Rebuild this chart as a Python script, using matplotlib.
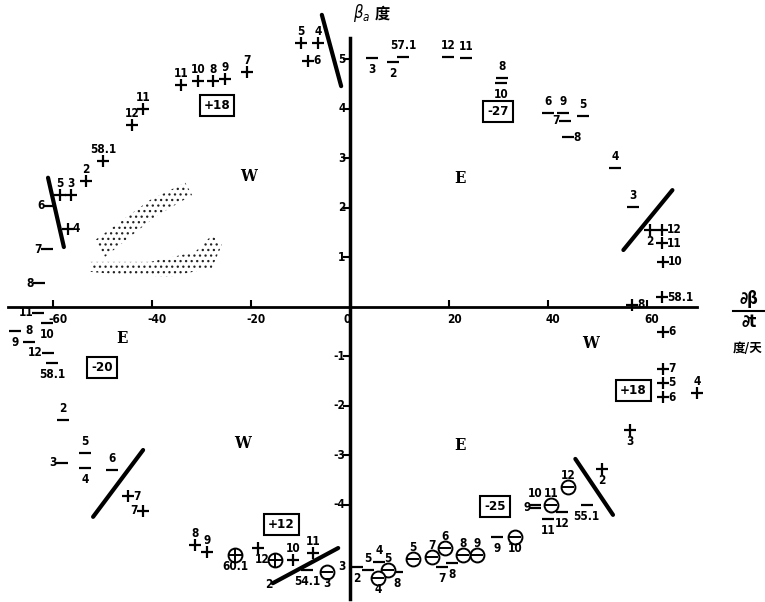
import matplotlib
matplotlib.use("Agg")
import matplotlib.pyplot as plt

plt.rcParams['font.family'] = ['DejaVu Sans']
plt.rcParams['font.stretch'] = 'condensed'
plt.rcParams['hatch.linewidth'] = 0.9

# "+" points: x (deg/day), y (deg), label, label side
plus_x = [-44.0, -41.8, -34.1, -30.7, -27.7, -25.3, -20.8, -9.9, -6.5, -8.5,
          -49.9, -53.3, -58.6, -56.4, -57.0,
          60.6, 63.0, 63.0, 63.2, 57.0, 63.0, 63.2, 63.2, 63.2, 63.2, 70.1, 56.6, 50.9,
          -44.8, -41.8, -31.3, -28.9, -18.6, -11.5, -7.5]
plus_y = [3.68, 4.00, 4.48, 4.57, 4.57, 4.60, 4.75, 5.33, 5.33, 4.97,
          2.95, 2.55, 2.26, 2.26, 1.58,
          1.56, 1.56, 1.29, 0.91, 0.04, 0.20, -0.50, -1.25, -1.53, -1.82, -1.74, -2.48, -3.27,
          -3.82, -4.12, -4.81, -4.95, -4.87, -5.11, -4.97]
plus_lab = ["12", "11", "11", "10", "8", "9", "7", "5", "4", "6",
            "58.1", "2", "5", "3", "4",
            "2", "12", "11", "10", "8", "58.1", "6", "7", "5", "6", "4", "3", "2",
            "7", "7", "8", "9", "", "10", "11"]
plus_pos = ["above"] * 9 + ["right"] + ["above"] * 4 + ["right"] + \
           ["below"] + ["right"] * 9 + ["above", "below", "below"] + \
           ["right", "left", "above", "above", "above", "above", "above"]

# "-" points
minus_x = [-60.6, -61.2, -62.8,
           -63.0, -61.2, -67.7, -64.8, -61.0, -60.2, -58.0, -58.2, -53.5, -53.5, -48.1,
           4.4, 10.7, 8.7, 19.8, 23.4, 30.7, 30.5, 40.0, 43.0, 43.4, 47.1, 44.0, 53.5, 57.2,
           37.4, 37.4, 40.0, 42.8, 47.8, 29.7, 18.6, 20.6, 3.6, 5.9, 9.5, 1.4, -8.6]
minus_y = [2.04, 1.17, 0.48,
           -0.12, -0.32, -0.48, -0.71, -0.93, -1.13, -2.28, -3.15, -2.95, -3.25, -3.29,
           5.03, 5.05, 4.95, 5.05, 5.03, 4.62, 4.52, 3.92, 3.92, 3.76, 3.86, 3.43, 2.81, 2.02,
           -4.00, -4.06, -4.28, -4.14, -4.00, -4.65, -5.25, -5.17, -5.31, -5.15, -5.35, -5.25, -5.31]
minus_lab = ["6", "7", "8",
             "11", "10", "9", "8", "12", "58.1", "2", "3", "5", "4", "6",
             "3", "57.1", "2", "12", "11", "8", "10", "6", "9", "7", "5", "8", "4", "3",
             "10", "9", "11", "12", "55.1", "9", "7", "8", "5", "4", "8", "2", "54.1"]
minus_pos = ["left"] * 3 + \
            ["left", "below", "below", "above", "left", "below", "above", "left", "above", "below", "above"] + \
            ["below", "above", "below", "above", "above", "above", "below", "above", "above", "left",
             "above", "right", "above", "above"] + \
            ["above", "left", "below", "below", "below", "below", "below", "below", "above", "above",
             "below", "below", "below"]

# circled minus points
ominus_x = [44.0, 40.6, 33.3, 25.7, 22.8, 19.2, 16.6, 12.7, 7.7, 5.7, -4.6]
ominus_y = [-3.63, -4.00, -4.65, -5.01, -5.01, -4.87, -5.05, -5.09, -5.31, -5.47, -5.35]
ominus_lab = ["12", "11", "10", "9", "8", "6", "7", "5", "5", "4", "3"]
ominus_pos = ["above", "above", "below", "above", "above", "above", "above", "above", "above", "below", "below"]

# circled plus points
oplus_x = [-23.2, -15.2]
oplus_y = [-5.01, -5.11]
oplus_lab = ["60.1", "12"]
oplus_pos = ["below", "left"]

# loose labels
extra_lab = ["3", "2"]
extra_x = [-1.6, -16.5]
extra_y = [-5.25, -5.6]

# boxed mean values
box_lab = ["+18", "-27", "-20", "+18", "-25", "+12"]
box_x = [-26.9, 29.9, -50.1, 57.2, 29.3, -13.9]
box_y = [4.06, 3.94, -1.23, -1.68, -4.04, -4.40]

# quadrant letters
reg_lab = ["W", "E", "E", "W", "W", "E"]
reg_x = [-20.6, 22.2, -46.1, 48.5, -21.8, 22.2]
reg_y = [2.63, 2.60, -0.63, -0.73, -2.75, -2.79]

# heavy separator strokes
seg_x = [(-5.7, -1.8), (-61.0, -57.8), (65.1, 55.2), (45.5, 53.1), (-41.8, -51.9), (-15.6, -2.4)]
seg_y = [(5.9, 4.46), (2.61, 1.21), (2.36, 1.15), (-3.07, -4.2), (-2.89, -4.24), (-5.58, -4.87)]

# stippled clouds
cloud1_x = [-51.5, -40.4, -33.3, -31.9, -39.4, -49.5]
cloud1_y = [1.35, 2.16, 2.51, 2.26, 1.82, 1.01]
cloud2_x = [-52.5, -40.4, -31.3, -27.9, -25.9, -27.9, -36.4, -46.5, -52.5]
cloud2_y = [0.91, 0.91, 1.11, 1.45, 1.25, 0.79, 0.61, 0.65, 0.71]

xticks = [-60, -40, -20, 20, 40, 60]
xtick_lab = ["-60", "-40", "-20", "20", "40", "60"]
yticks = [5, 4, 3, 2, 1, -1, -2, -3, -4]
ytick_lab = ["5", "4", "3", "2", "1", "-1", "-2", "-3", "-4"]

OFFS = {"above": (0, 5, "center", "bottom"), "below": (0, -5, "center", "top"),
        "left": (-5, 0, "right", "center"), "right": (5, 0, "left", "center")}
LAB_KW = dict(fontsize=8.5, fontweight="bold", color="black")


def label_points(ax, xs, ys, labs, poss):
    for x, y, s, p in zip(xs, ys, labs, poss):
        if not s:
            continue
        dx, dy, ha, va = OFFS[p]
        ax.annotate(s, (x, y), xytext=(dx, dy), textcoords="offset pixels",
                    ha=ha, va=va, **LAB_KW)


fig = plt.figure(figsize=(7.65, 6.02), dpi=100)
ax = fig.add_axes([0, 0, 1, 1])
ax.set_xlim(-70.7, 83.8)
ax.set_ylim(-5.96, 6.2)
ax.axis("off")

# axes
ax.plot([-69, 70], [0, 0], color="black", lw=2)
ax.plot([0, 0], [-5.9, 5.43], color="black", lw=2.5)
ax.plot(xticks, [0] * len(xticks), ls="none", marker=2, ms=5, mew=1.5, color="black")
ax.plot([0] * len(yticks), yticks, ls="none", marker=0, ms=5, mew=1.5, color="black")
for xt, s in zip(xticks, xtick_lab):
    ax.text(xt + 1, -0.12, s, ha="center", va="top", **LAB_KW)
for yt, s in zip(yticks, ytick_lab):
    ax.text(-0.9, yt, s, ha="right", va="center", **LAB_KW)
ax.text(-0.6, -0.12, "0", ha="center", va="top", **LAB_KW)

ax.text(0.6, 5.93, r"$\beta_a$", fontsize=12, ha="left", va="center")
ax.text(6.5, 5.93, "度", fontsize=11, ha="center", va="center",
        family=["Noto Sans CJK SC", "DejaVu Sans"], fontweight="bold")
ax.text(80.6, 0.16, "∂β", fontsize=12, ha="center", va="center", fontweight="bold")
ax.plot([77.3, 84], [-0.08, -0.08], color="black", lw=1.5)
ax.text(80.6, -0.31, "∂t", fontsize=12, ha="center", va="center", fontweight="bold")
ax.text(80.3, -0.83, "度/天", fontsize=9, ha="center", va="center",
        family=["Noto Sans CJK SC", "DejaVu Sans"], fontweight="bold")

# clouds
for cx, cy in [(cloud1_x, cloud1_y), (cloud2_x, cloud2_y)]:
    ax.fill(cx, cy, facecolor="none", edgecolor="#222222", lw=0, hatch="...")

# strokes
for sx, sy in zip(seg_x, seg_y):
    ax.plot(sx, sy, color="black", lw=3, solid_capstyle="round")

# markers
ax.plot(plus_x, plus_y, ls="none", marker="+", ms=9, mew=1.6, color="black")
ax.plot(minus_x, minus_y, ls="none", marker="_", ms=8, mew=1.6, color="black")
ax.plot(ominus_x, ominus_y, ls="none", marker="o", ms=10, mew=1.4, mfc="white", color="black")
ax.plot(ominus_x, ominus_y, ls="none", marker="_", ms=8, mew=1.4, color="black")
ax.plot(oplus_x, oplus_y, ls="none", marker="o", ms=10, mew=1.4, mfc="white", color="black")
ax.plot(oplus_x, oplus_y, ls="none", marker="+", ms=10, mew=1.4, color="black")

label_points(ax, plus_x, plus_y, plus_lab, plus_pos)
label_points(ax, minus_x, minus_y, minus_lab, minus_pos)
label_points(ax, ominus_x, ominus_y, ominus_lab, ominus_pos)
label_points(ax, oplus_x, oplus_y, oplus_lab, oplus_pos)
for s, x, y in zip(extra_lab, extra_x, extra_y):
    ax.text(x, y, s, ha="center", va="center", **LAB_KW)

for s, x, y in zip(box_lab, box_x, box_y):
    ax.text(x, y, s, ha="center", va="center", fontsize=9.5, fontweight="bold",
            bbox=dict(boxstyle="square,pad=0.3", fc="white", ec="black", lw=1.5))

for s, x, y in zip(reg_lab, reg_x, reg_y):
    ax.text(x, y, s, ha="center", va="center", fontsize=12, fontweight="bold",
            family="DejaVu Serif")

fig.savefig("out.png", dpi=100)
